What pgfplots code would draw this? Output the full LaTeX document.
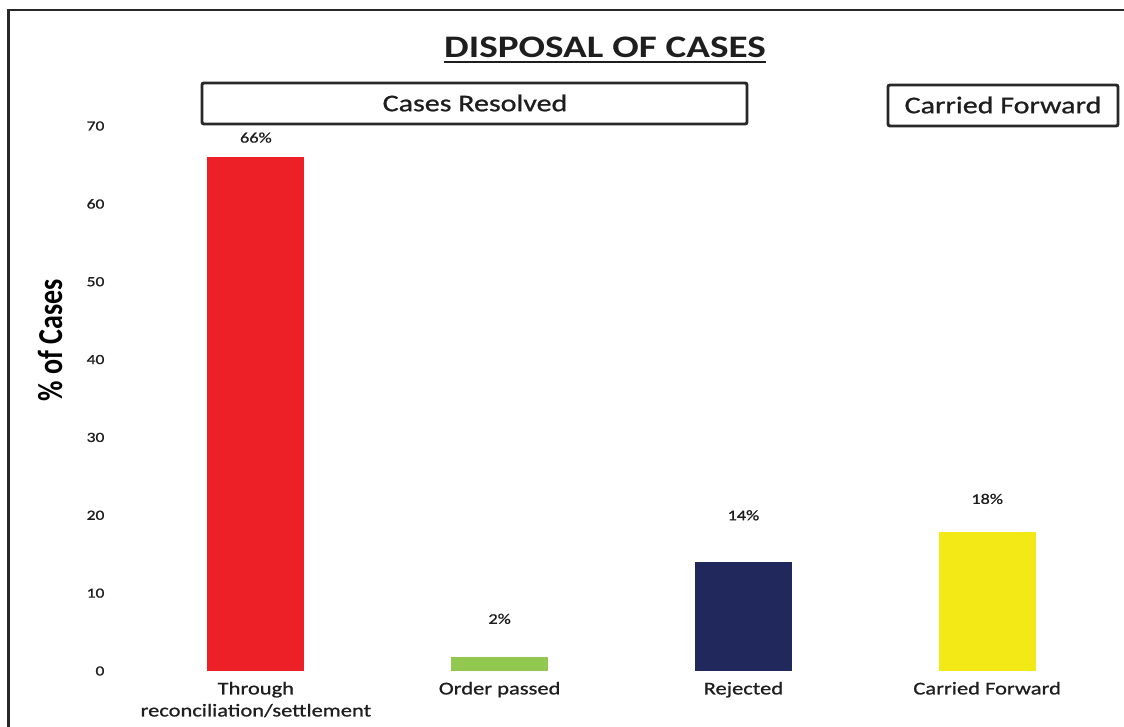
\documentclass[border=0pt]{standalone}
\usepackage{fontspec}
\setmainfont{Carlito}[FakeStretch=1.25]
\newfontfamily\heavyfont{Carlito}[FakeStretch=1.25, FakeBold=0.9]
\newfontfamily\plainfont{Carlito}
\usepackage{graphicx}
\usepackage{pgfplots}
\pgfplotsset{compat=1.18}
\definecolor{barred}{RGB}{236,32,38}
\definecolor{bargreen}{RGB}{146,200,80}
\definecolor{barnavy}{RGB}{32,40,92}
\definecolor{baryellow}{RGB}{243,233,22}
\definecolor{framegray}{RGB}{40,40,40}
\definecolor{txt}{RGB}{30,30,30}
\begin{document}
\begin{tikzpicture}
\useasboundingbox (0,0) rectangle (843pt,545.25pt);
% outer frame
\draw[line width=2.2pt, framegray] (6.6pt,-5pt) -- (6.6pt,537.75pt) -- (850pt,537.75pt);
\begin{axis}[
  at={(100.5pt,42pt)}, anchor=south west,
  scale only axis, width=731.25pt, height=408.75pt,
  xmin=-0.5, xmax=3.5, ymin=0, ymax=70,
  ybar,
  axis line style={draw=none},
  tick style={draw=none},
  major tick length=0pt,
  xtick={0,1,2,3},
  xticklabels={{Through\\reconciliation/settlement},{Order passed},{Rejected},{Carried Forward}},
  xticklabel style={align=center, anchor=north, inner sep=0pt, yshift=-8pt,
     font=\heavyfont\fontsize{13.5}{16.5}\selectfont, text=txt},
  ytick={0,10,...,70},
  yticklabel style={anchor=east, inner sep=0pt, xshift=-22pt,
     font=\heavyfont\fontsize{10.5}{12}\selectfont, text=txt},
  /pgf/number format/assume math mode=true,
  clip=false,
]
\addplot[fill=barred, draw=none, bar width=72.75pt, bar shift=0pt] coordinates {(0,66)};
\addplot[fill=bargreen, draw=none, bar width=72.75pt, bar shift=0pt] coordinates {(1,1.8)};
\addplot[fill=barnavy, draw=none, bar width=72.75pt, bar shift=0pt] coordinates {(2,14)};
\addplot[fill=baryellow, draw=none, bar width=72.75pt, bar shift=0pt] coordinates {(3,17.8)};
\node[font=\heavyfont\fontsize{11}{12}\selectfont, text=txt] at (axis cs:0,68.5) {66\%};
\node[font=\heavyfont\fontsize{11}{12}\selectfont, text=txt] at (axis cs:1,6.7) {2\%};
\node[font=\heavyfont\fontsize{11}{12}\selectfont, text=txt] at (axis cs:2,20.0) {14\%};
\node[font=\heavyfont\fontsize{11}{12}\selectfont, text=txt] at (axis cs:3,22.1) {18\%};
\end{axis}
% y label
\node[rotate=90, text=black] at (37.5pt,290.25pt) {\scalebox{1}[1.25]{\plainfont\bfseries\fontsize{21}{24}\selectfont \% of Cases}};
% title
\node[inner sep=0pt, font=\bfseries\fontsize{23.5}{26}\selectfont, text=txt, anchor=base] (t) at (453.75pt,502pt) {DISPOSAL OF CASES};
\draw[line width=1.4pt, txt] ([yshift=-3.5pt]t.base west) -- ([yshift=-3.5pt]t.base east);
% boxes
\draw[line width=2.2pt, framegray, rounded corners=1.5pt] (151.5pt,452.25pt) rectangle (560.25pt,483pt);
\node[font=\heavyfont\fontsize{18}{20}\selectfont, text=txt] at (356.25pt,468pt) {Cases Resolved};
\draw[line width=2.2pt, framegray, rounded corners=1.5pt] (666pt,450.75pt) rectangle (838.5pt,481.5pt);
\node[font=\heavyfont\fontsize{18}{20}\selectfont, text=txt] at (752.25pt,466.5pt) {Carried Forward};
\end{tikzpicture}
\end{document}
